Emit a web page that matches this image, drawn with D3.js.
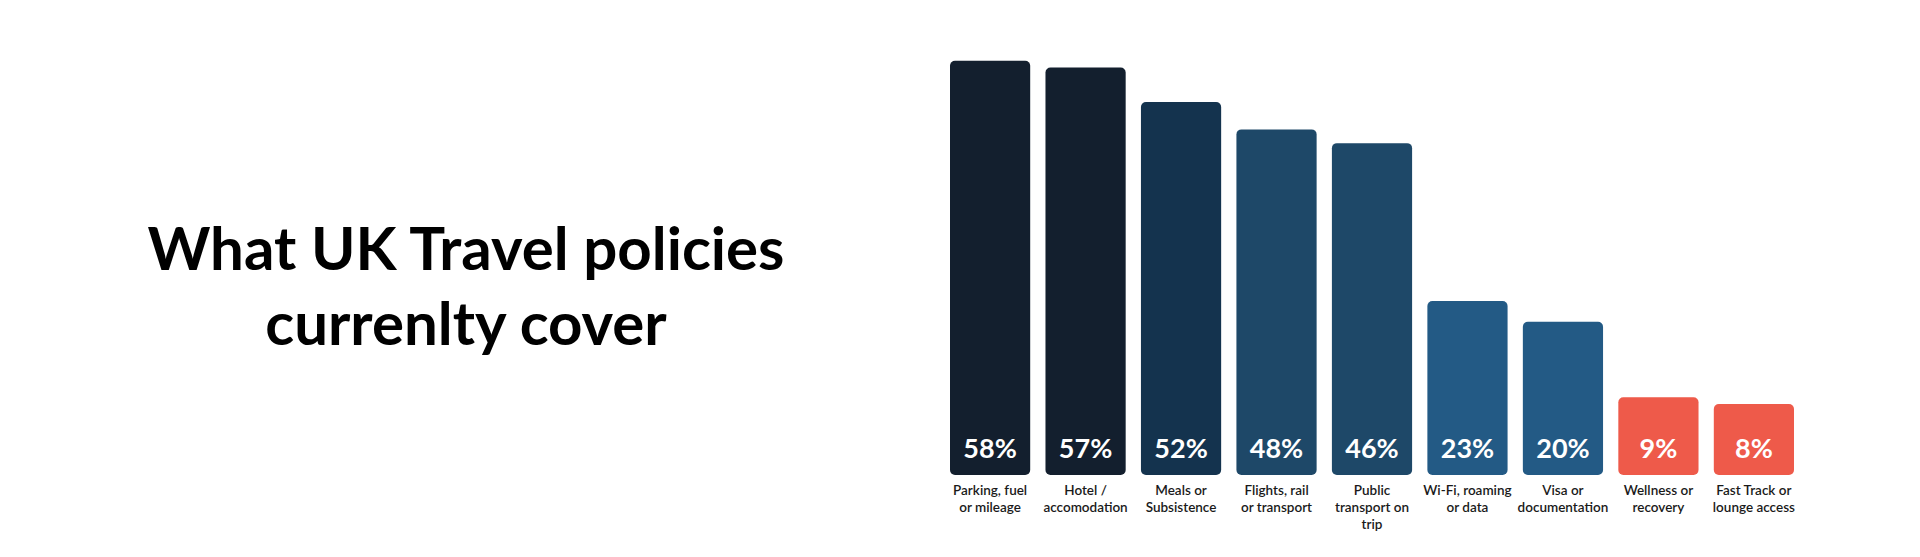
<!DOCTYPE html>
<html>
<head>
<meta charset="utf-8">
<script src="https://cdn.jsdelivr.net/npm/d3@7"></script>
<style>
  body { margin: 0; background: #fff; }
  svg { display: block; font-family: Lato, "Open Sans", sans-serif; }
</style>
</head>
<body>
<div id="chart"></div>
<script>
// Chart data
const categories = [
    ["Parking, fuel", "or mileage"],
    ["Hotel /", "accomodation"],
    ["Meals or", "Subsistence"],
    ["Flights, rail", "or transport"],
    ["Public", "transport on", "trip"],
    ["Wi-Fi, roaming", "or data"],
    ["Visa or", "documentation"],
    ["Wellness or", "recovery"],
    ["Fast Track or", "lounge access"]
];
const values = [58, 57, 52, 48, 46, 23, 20, 9, 8];
const barColors = ["#131f2e", "#131f2e", "#14334e", "#1e4868", "#1e4868", "#235a85", "#235a85", "#ee5a4a", "#ee5a4a"];
const titleLines = ["What UK Travel policies", "currenlty cover"];

const width = 1920, height = 557;

const svg = d3.select("#chart")
    .append("svg")
    .attr("width", width)
    .attr("height", height);

// Title
svg.append("text")
    .attr("x", 466)
    .attr("y", 270)
    .attr("text-anchor", "middle")
    .style("font-size", "60px")
    .style("font-weight", "bold")
    .style("fill", "#000")
    .selectAll("tspan")
    .data(titleLines)
    .join("tspan")
    .attr("x", 466)
    .attr("dy", (d, i) => i === 0 ? 0 : 75)
    .text(d => d);

// Scales
const baseline = 475;
const x = d3.scaleBand()
    .domain(d3.range(values.length))
    .range([950, 1794])
    .paddingInner(0.16)
    .paddingOuter(0);

const y = d3.scaleLinear()
    .domain([0, 60])
    .range([baseline - 16, baseline - 428]);

// Bars
svg.selectAll(".bar")
    .data(values)
    .join("rect")
    .attr("class", "bar")
    .attr("x", (d, i) => x(i))
    .attr("y", d => y(d))
    .attr("width", x.bandwidth())
    .attr("height", d => baseline - y(d))
    .attr("rx", 5)
    .attr("fill", (d, i) => barColors[i]);

// Value labels inside bars
svg.selectAll(".value")
    .data(values)
    .join("text")
    .attr("class", "value")
    .attr("x", (d, i) => x(i) + x.bandwidth() / 2)
    .attr("y", baseline - 17)
    .attr("text-anchor", "middle")
    .style("font-size", "27px")
    .style("font-weight", "bold")
    .style("fill", "#fff")
    .text(d => d + "%");

// Category labels under bars
svg.selectAll(".cat")
    .data(categories)
    .join("text")
    .attr("class", "cat")
    .attr("text-anchor", "middle")
    .attr("y", 495)
    .style("font-size", "13.5px")
    .style("font-weight", "600")
    .style("fill", "#1a1a1a")
    .each(function(lines, i) {
        d3.select(this).selectAll("tspan")
            .data(lines)
            .join("tspan")
            .attr("x", x(i) + x.bandwidth() / 2)
            .attr("dy", (d, j) => j === 0 ? 0 : 17)
            .text(d => d);
    });
</script>
</body>
</html>
